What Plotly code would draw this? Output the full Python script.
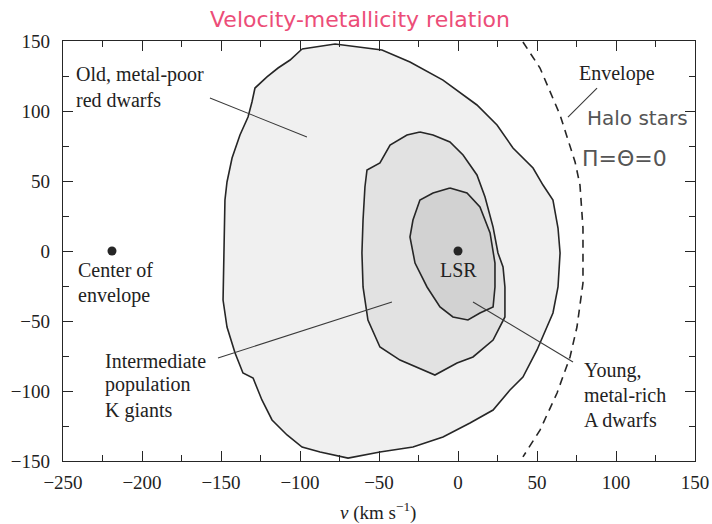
import plotly.graph_objects as go

# Velocity-space contours (u, v in km/s) for the three stellar populations
old_u = [-98.7, -77.8, -48.1, -30.4, -9.5, 12.0, 24.7, 34.8, 47.5, 53.8, 60.1, 63.3, 64.6, 63.3, 60.1,
         56.3, 50.0, 41.1, 32.9, 22.2, 7.6, -9.5, -28.5, -49.4, -69.6, -87.3, -98.7, -108.2, -117.7,
         -124.1, -129.7, -136.1, -141.1, -146.2, -148.7, -148.1, -147.5, -146.2, -143.0, -138.0,
         -132.9, -130.4, -128.5, -120.9, -113.9, -106.3, -98.7]
old_v = [144.3, 147.9, 143.6, 135.0, 122.1, 104.3, 90.0, 73.6, 59.3, 47.1, 36.4, 16.4, -1.4, -25.7, -44.3,
         -54.3, -70.7, -90.0, -99.3, -113.6, -122.9, -132.9, -140.0, -143.6, -147.9, -143.6, -140.0, -131.4,
         -120.7, -106.4, -90.7, -87.1, -72.9, -54.3, -35.0, 0.7, 36.4, 49.3, 66.4, 82.9,
         95.7, 106.4, 116.4, 124.3, 130.7, 136.4, 144.3]

mid_u = [-24.1, -15.8, -5.1, 3.2, 12.0, 17.1, 22.2, 25.3, 28.5, 29.7, 29.7, 26.6, 22.2, 9.5, -0.6,
         -14.6, -25.9, -36.7, -49.4, -57.0, -60.1, -60.8, -60.1, -58.9, -57.6, -49.4, -43.0, -32.3, -24.1]
mid_v = [85.0, 82.9, 77.9, 68.6, 54.3, 38.6, 17.1, -1.4, -11.4, -25.7, -47.1, -54.3, -63.6, -75.7, -80.0,
         -88.6, -82.9, -77.9, -68.6, -49.3, -25.7, -1.4, 22.1, 45.7, 57.9, 62.9, 75.7, 82.9, 85.0]

young_u = [-5.1, -15.8, -24.1, -28.5, -30.4, -27.2, -19.6, -11.4, -3.2, 6.3, 13.9, 22.2, 23.4, 23.4,
           20.3, 13.9, 5.7, -5.1]
young_v = [45.0, 41.4, 36.4, 22.1, 10.0, -8.6, -25.7, -40.0, -47.1, -49.3, -44.3, -40.0, -25.7, -8.6,
           12.9, 31.4, 41.4, 45.0]

# Envelope of the halo population
env_u = [41.1, 51.9, 64.6, 74.1, 77.2, 79.1, 79.1, 79.1, 75.3, 70.9, 62.7, 51.9, 41.1]
env_v = [149.3, 130.7, 97.1, 63.6, 47.1, 16.4, 0.7, -22.9, -54.3, -75.7, -101.4, -127.9, -147.1]

# Reference points
point_u = [-219, 0]
point_v = [0, 0]

x_ticks = [-250, -200, -150, -100, -50, 0, 50, 100, 150]
y_ticks = [-150, -100, -50, 0, 50, 100, 150]

INK = "#262626"
SERIF = "Liberation Serif, Times New Roman, serif"

fig = go.Figure()
for u, v, fill in [(old_u, old_v, "#f0f0f0"), (mid_u, mid_v, "#e2e2e2"), (young_u, young_v, "#d2d2d2")]:
    fig.add_trace(go.Scatter(x=u, y=v, mode="lines", fill="toself", fillcolor=fill,
                             line=dict(color=INK, width=1.6), hoverinfo="skip", showlegend=False))

fig.add_trace(go.Scatter(x=env_u, y=env_v, mode="lines", line=dict(color=INK, width=1.6, dash="8px,6px"),
                         showlegend=False, hoverinfo="skip"))
fig.add_trace(go.Scatter(x=point_u, y=point_v, mode="markers", marker=dict(color=INK, size=9),
                         showlegend=False, hoverinfo="skip"))

# Label pointer lines
pointers = [((-157.0, 109.3), (-95.6, 81.4)),
            ((-151.9, -76.4), (-41.8, -36.4)),
            ((9.5, -36.4), (72.8, -79.3)),
            ((88.0, 116.4), (69.6, 95.7))]
for (x0, y0), (x1, y1) in pointers:
    fig.add_shape(type="line", x0=x0, y0=y0, x1=x1, y1=y1, line=dict(color="#3a3a3a", width=1.1))

labels = [
    ("Old, metal-poor", -243.0, 126.4, "left"),
    ("red dwarfs", -243.0, 107.9, "left"),
    ("Center of", -241.5, -13.6, "left"),
    ("envelope", -241.5, -32.1, "left"),
    ("Intermediate", -225.0, -78.6, "left"),
    ("population", -225.0, -95.7, "left"),
    ("K giants", -225.0, -113.6, "left"),
    ("LSR", 0, -13.6, "center"),
    ("Young,", 78.5, -85.0, "left"),
    ("metal-rich", 78.5, -102.9, "left"),
    ("A dwarfs", 78.5, -120.7, "left"),
    ("Envelope", 75.5, 127.1, "left"),
]
for text, x, y, anchor in labels:
    fig.add_annotation(x=x, y=y, text=text, xanchor=anchor, yanchor="middle", showarrow=False,
                       font=dict(family=SERIF, size=20, color="#222"))

# Handwritten notes
fig.add_annotation(x=80.4, y=95.0, text="Halo stars", xanchor="left", yanchor="middle", showarrow=False,
                   font=dict(family="DejaVu Sans", size=20, color="#555"))
fig.add_annotation(x=77.2, y=66.4, text="Π=Θ=0", xanchor="left", yanchor="middle", showarrow=False,
                   font=dict(family="DejaVu Sans", size=22, color="#555"))
fig.add_annotation(xref="paper", yref="paper", x=0.47, y=1.05, text="Velocity-metallicity relation",
                   xanchor="center", yanchor="middle", showarrow=False,
                   font=dict(family="DejaVu Sans", size=22, color="#ec4d78"))

# Axis title
fig.add_annotation(xref="paper", yref="paper", x=(378 - 63) / 632, y=-(511 - 461) / 420,
                   text="<i>v</i> (km s<sup>−1</sup>)", xanchor="center", yanchor="middle",
                   showarrow=False, font=dict(family=SERIF, size=19, color="#222"))

axis_common = dict(showgrid=False, zeroline=False, showline=True, linecolor=INK, linewidth=1.3,
                   mirror="allticks", ticks="inside", ticklen=10, tickwidth=1.2, tickcolor=INK,
                   automargin=False,
                   tickfont=dict(family=SERIF, size=19, color="#222"),
                   minor=dict(ticks="inside", ticklen=6, tickwidth=1.1, tickcolor=INK, dtick=25))

fig.update_xaxes(range=[-250, 150], tickvals=x_ticks, ticklabelstandoff=4, **axis_common)
fig.update_yaxes(range=[-150, 150], tickvals=y_ticks, ticklabelstandoff=8, **axis_common)

fig.update_layout(width=712, height=524, margin=dict(l=63, r=17, t=41, b=63, autoexpand=False),
                  paper_bgcolor="white", plot_bgcolor="white")

fig.write_html("out.html")
